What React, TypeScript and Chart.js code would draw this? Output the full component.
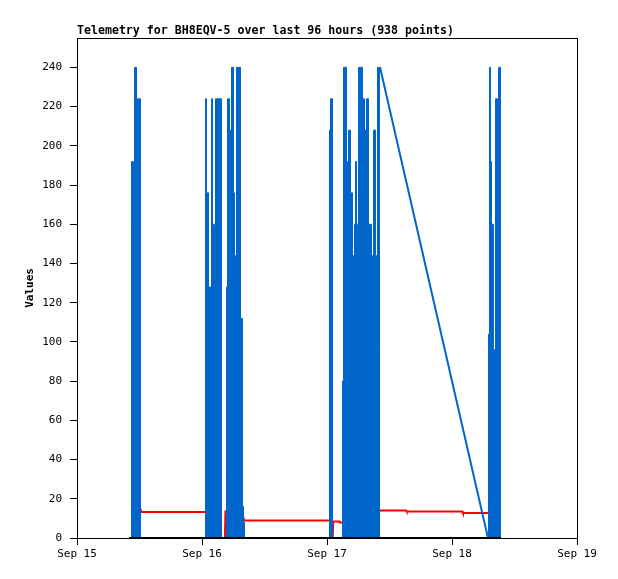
import { useEffect, useRef } from "react";
import { Chart, registerables, ChartConfiguration, Plugin } from "chart.js";

Chart.register(...registerables);

const chartTitle = "Telemetry for BH8EQV-5 over last 96 hours (938 points)";
const yAxisTitle = "Values";

// x values are hours after Sep 15 00:00
const dayLabels = ["Sep 15", "Sep 16", "Sep 17", "Sep 18", "Sep 19"];

// blue channel, one burst of readings at a time: [hour, value]
const burst1: [number, number][] = [
  [10.37, 0], [10.56, 192], [10.75, 192], [10.94, 160], [11.14, 240], [11.33, 240],
  [11.52, 224], [11.71, 224], [11.9, 224], [12.1, 224], [12.29, 0],
];
const burst2: [number, number][] = [
  [24.58, 0], [24.77, 224], [24.96, 176], [25.15, 176], [25.34, 48], [25.54, 128],
  [25.73, 128], [25.92, 224], [26.11, 96], [26.3, 160], [26.5, 160], [26.69, 224],
  [26.88, 224], [27.07, 224], [27.26, 224], [27.46, 224], [27.65, 224], [27.84, 0],
  [28.61, 0], [28.8, 128], [28.99, 224], [29.18, 224], [29.38, 32], [29.57, 208],
  [29.76, 240], [29.95, 240], [30.14, 176], [30.34, 144], [30.53, 144], [30.72, 240],
  [30.91, 240], [31.1, 240], [31.3, 240], [31.49, 112], [31.68, 112], [31.87, 16],
  [32.06, 8], [32.26, 0],
];
const burst3: [number, number][] = [
  [48.38, 0], [48.58, 208], [48.77, 224], [48.96, 224], [49.15, 0],
];
const burst4: [number, number][] = [
  [50.88, 0], [51.07, 80], [51.26, 240], [51.46, 240], [51.65, 240], [51.84, 16],
  [52.03, 192], [52.22, 208], [52.42, 208], [52.61, 176], [52.8, 176], [52.99, 144],
  [53.18, 0], [53.38, 160], [53.57, 192], [53.76, 160], [53.95, 160], [54.14, 240],
  [54.34, 240], [54.53, 240], [54.72, 240], [54.91, 224], [55.1, 224], [55.3, 208],
  [55.49, 208], [55.68, 224], [55.87, 224], [56.06, 112], [56.26, 160], [56.45, 160],
  [56.64, 144], [56.83, 96], [57.02, 208], [57.22, 208], [57.41, 144], [57.6, 96],
  [57.79, 240], [57.98, 240], [58.18, 240],
];
const burst5: [number, number][] = [
  [78.91, 0], [79.1, 104], [79.3, 240], [79.49, 192], [79.68, 160], [79.87, 160],
  [80.06, 96], [80.26, 64], [80.45, 224], [80.64, 224], [80.83, 160], [81.02, 240],
  [81.22, 240], [81.41, 0],
];

// red channel: [hour, value]
const redReadings: [number, number][] = [
  [10.8, 14.5], [12.2, 14.5], [12.4, 13.2], [24.7, 13.2], [26.9, 13.0], [27.1, 0],
  [28.4, 0], [28.5, 13.5], [31.8, 12.0], [32.1, 8.9], [48.6, 8.9], [48.7, 0],
  [49.1, 0], [49.2, 8.4], [50.4, 8.4], [50.5, 7.9], [52.0, 7.9], [52.2, 14.0],
  [63.2, 14.0], [63.3, 13.5], [74.0, 13.5], [74.1, 12.8], [81.0, 12.8],
];

// black channel, flat at zero
const zeroHours = [10.0, 24.58, 48.38, 50.88, 78.91, 81.41];
const zeroValues = [0, 0, 0, 0, 0, 0];

const BLUE = "#0066cc";
const FONT = "'DejaVu Sans Mono', monospace";

const toPoints = (rows: [number, number][]) => rows.map(([x, y]) => ({ x, y }));

const framePlugin: Plugin<"line"> = {
  id: "frame",
  afterDraw(chart) {
    const { ctx, chartArea: a } = chart;
    ctx.save();
    ctx.strokeStyle = "#000";
    ctx.lineWidth = 1;
    ctx.strokeRect(
      Math.round(a.left) + 0.5,
      Math.round(a.top) + 0.5,
      Math.round(a.right - a.left),
      Math.round(a.bottom - a.top)
    );
    ctx.restore();
  },
};

const TelemetryChart = () => {
  const canvasRef = useRef<HTMLCanvasElement | null>(null);
  const chartRef = useRef<Chart<"line"> | null>(null);

  useEffect(() => {
    if (!canvasRef.current) return;
    const ctx = canvasRef.current.getContext("2d");
    if (!ctx) return;

    if (chartRef.current) chartRef.current.destroy();

    Chart.defaults.font.family = FONT;
    Chart.defaults.color = "#000";

    const tickGrid = {
      drawOnChartArea: false,
      drawTicks: true,
      tickLength: 7,
      color: "#000",
    };

    // the silent stretch between the 4th and 5th burst is only a connecting line
    const lastBeforeSilence = burst4[burst4.length - 1];
    const firstAfterSilence = burst5[0];

    const burstStyle = {
      borderColor: BLUE,
      backgroundColor: BLUE,
      borderWidth: 1,
      pointRadius: 0,
      stepped: "middle" as const,
      fill: "origin" as const,
    };

    const config: ChartConfiguration<"line"> = {
      type: "line",
      data: {
        datasets: [
          {
            label: "zero",
            data: zeroHours.map((x, i) => ({ x, y: zeroValues[i] })),
            borderColor: "#000",
            borderWidth: 2,
            pointRadius: 0,
            fill: false,
          },
          {
            label: "blue link",
            data: toPoints([lastBeforeSilence, firstAfterSilence]),
            borderColor: BLUE,
            borderWidth: 2,
            pointRadius: 0,
            fill: false,
          },
          {
            label: "blue",
            data: toPoints([...burst1, ...burst2, ...burst3, ...burst4]),
            ...burstStyle,
          },
          {
            label: "blue late",
            data: toPoints(burst5),
            ...burstStyle,
          },
          {
            label: "red",
            data: toPoints(redReadings),
            borderColor: "#ff0000",
            borderWidth: 2,
            pointRadius: 0,
            fill: false,
          },
        ],
      },
      options: {
        responsive: true,
        maintainAspectRatio: false,
        animation: false,
        layout: { padding: { left: 0, right: 41, top: 0, bottom: 0 } },
        elements: { line: { tension: 0 } },
        plugins: {
          legend: { display: false },
          tooltip: { enabled: false },
          title: {
            display: true,
            text: chartTitle,
            align: "start",
            fullSize: false,
            color: "#000",
            font: { family: FONT, size: 11.6, weight: "bold" },
            padding: { top: 24, bottom: 0 },
          },
        },
        scales: {
          x: {
            type: "linear",
            min: 0,
            max: 96,
            ticks: {
              stepSize: 24,
              autoSkip: false,
              maxRotation: 0,
              padding: 3,
              font: { size: 11 },
              callback: (v) => dayLabels[Math.round(Number(v) / 24)] ?? "",
            },
            grid: tickGrid,
            border: { display: false },
            afterFit: (s) => {
              s.height = 41;
            },
          },
          y: {
            type: "linear",
            min: 0,
            max: 255,
            ticks: { stepSize: 20, includeBounds: false, padding: 8, font: { size: 11 } },
            grid: tickGrid,
            border: { display: false },
            title: {
              display: true,
              text: yAxisTitle,
              color: "#000",
              font: { family: FONT, size: 11, weight: "bold" },
              padding: { top: 24, bottom: 0 },
            },
            afterFit: (s) => {
              s.width = 77;
            },
          },
        },
      },
      plugins: [framePlugin],
    };

    chartRef.current = new Chart(ctx, config);

    return () => {
      if (chartRef.current) {
        chartRef.current.destroy();
        chartRef.current = null;
      }
    };
  }, []);

  return (
    <div style={{ position: "absolute", left: 0, top: 0, width: 618, height: 579, background: "#fff" }}>
      <canvas ref={canvasRef}></canvas>
    </div>
  );
};

export default function App() {
  return <TelemetryChart />;
}
